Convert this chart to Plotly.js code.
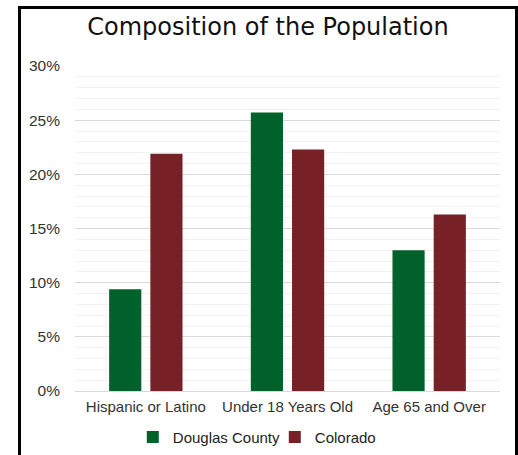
<!DOCTYPE html>
<html>
<head>
<meta charset="utf-8">
<script src="https://cdn.plot.ly/plotly-3.0.1.min.js"></script>
<style>
html,body{margin:0;padding:0;background:#fff;overflow:hidden;}
#frame{position:absolute;left:18px;top:6px;width:494px;height:470px;border:3px solid #000;background:#fff;}
#chart{width:494px;height:470px;}
</style>
</head>
<body>
<div id="frame"><div id="chart"></div></div>
<script>
const categories = ["Hispanic or Latino", "Under 18 Years Old", "Age 65 and Over"];
const douglasCounty = [0.094, 0.257, 0.130];
const colorado = [0.219, 0.223, 0.163];
const seriesNames = ["Douglas County", "Colorado"];
const yTickVals = [0, 0.05, 0.10, 0.15, 0.20, 0.25, 0.30];
const yTickText = ["0%", "5%", "10%", "15%", "20%", "25%", "30%"];

const data = [
  {type:"bar", name:seriesNames[0], x:categories, y:douglasCounty, marker:{color:"#00612B"}},
  {type:"bar", name:seriesNames[1], x:categories, y:colorado, marker:{color:"#772126"}}
];
const layout = {
  width:494, height:470,
  margin:{l:54, r:15, t:57, b:88},
  paper_bgcolor:"#fff", plot_bgcolor:"#fff",
  title:{text:"Composition of the Population", x:0.5, xanchor:"center", y:0.963, yanchor:"middle",
         font:{family:"DejaVu Sans", size:24, color:"#111"}},
  font:{family:"Liberation Sans, Arial, sans-serif", size:15, color:"#333"},
  barmode:"group", bargap:0.418, bargroupgap:0.22,
  showlegend:true,
  legend:{orientation:"h", x:0.136, xanchor:"left", y:-0.142, yanchor:"middle", font:{size:15, color:"#222"},
          entrywidth:97, entrywidthmode:"pixels", traceorder:"normal"},
  xaxis:{showgrid:false, zeroline:false, showline:false, ticks:"", ticklabelstandoff:5, tickfont:{size:15, color:"#333"}, fixedrange:true},
  yaxis:{range:[0,0.30], tickvals:yTickVals, ticktext:yTickText, showgrid:true, gridcolor:"#D9D9D9", gridwidth:1,
         zeroline:true, zerolinecolor:"#D9D9D9", zerolinewidth:1, ticks:"", ticklen:0, ticklabelstandoff:14, tickfont:{size:15.5, color:"#333"},
         minor:{dtick:0.01, showgrid:true, gridcolor:"#F2F2F2", gridwidth:1}, fixedrange:true}
};
Plotly.newPlot("chart", data, layout, {displayModeBar:false, staticPlot:true});
</script>
</body>
</html>
